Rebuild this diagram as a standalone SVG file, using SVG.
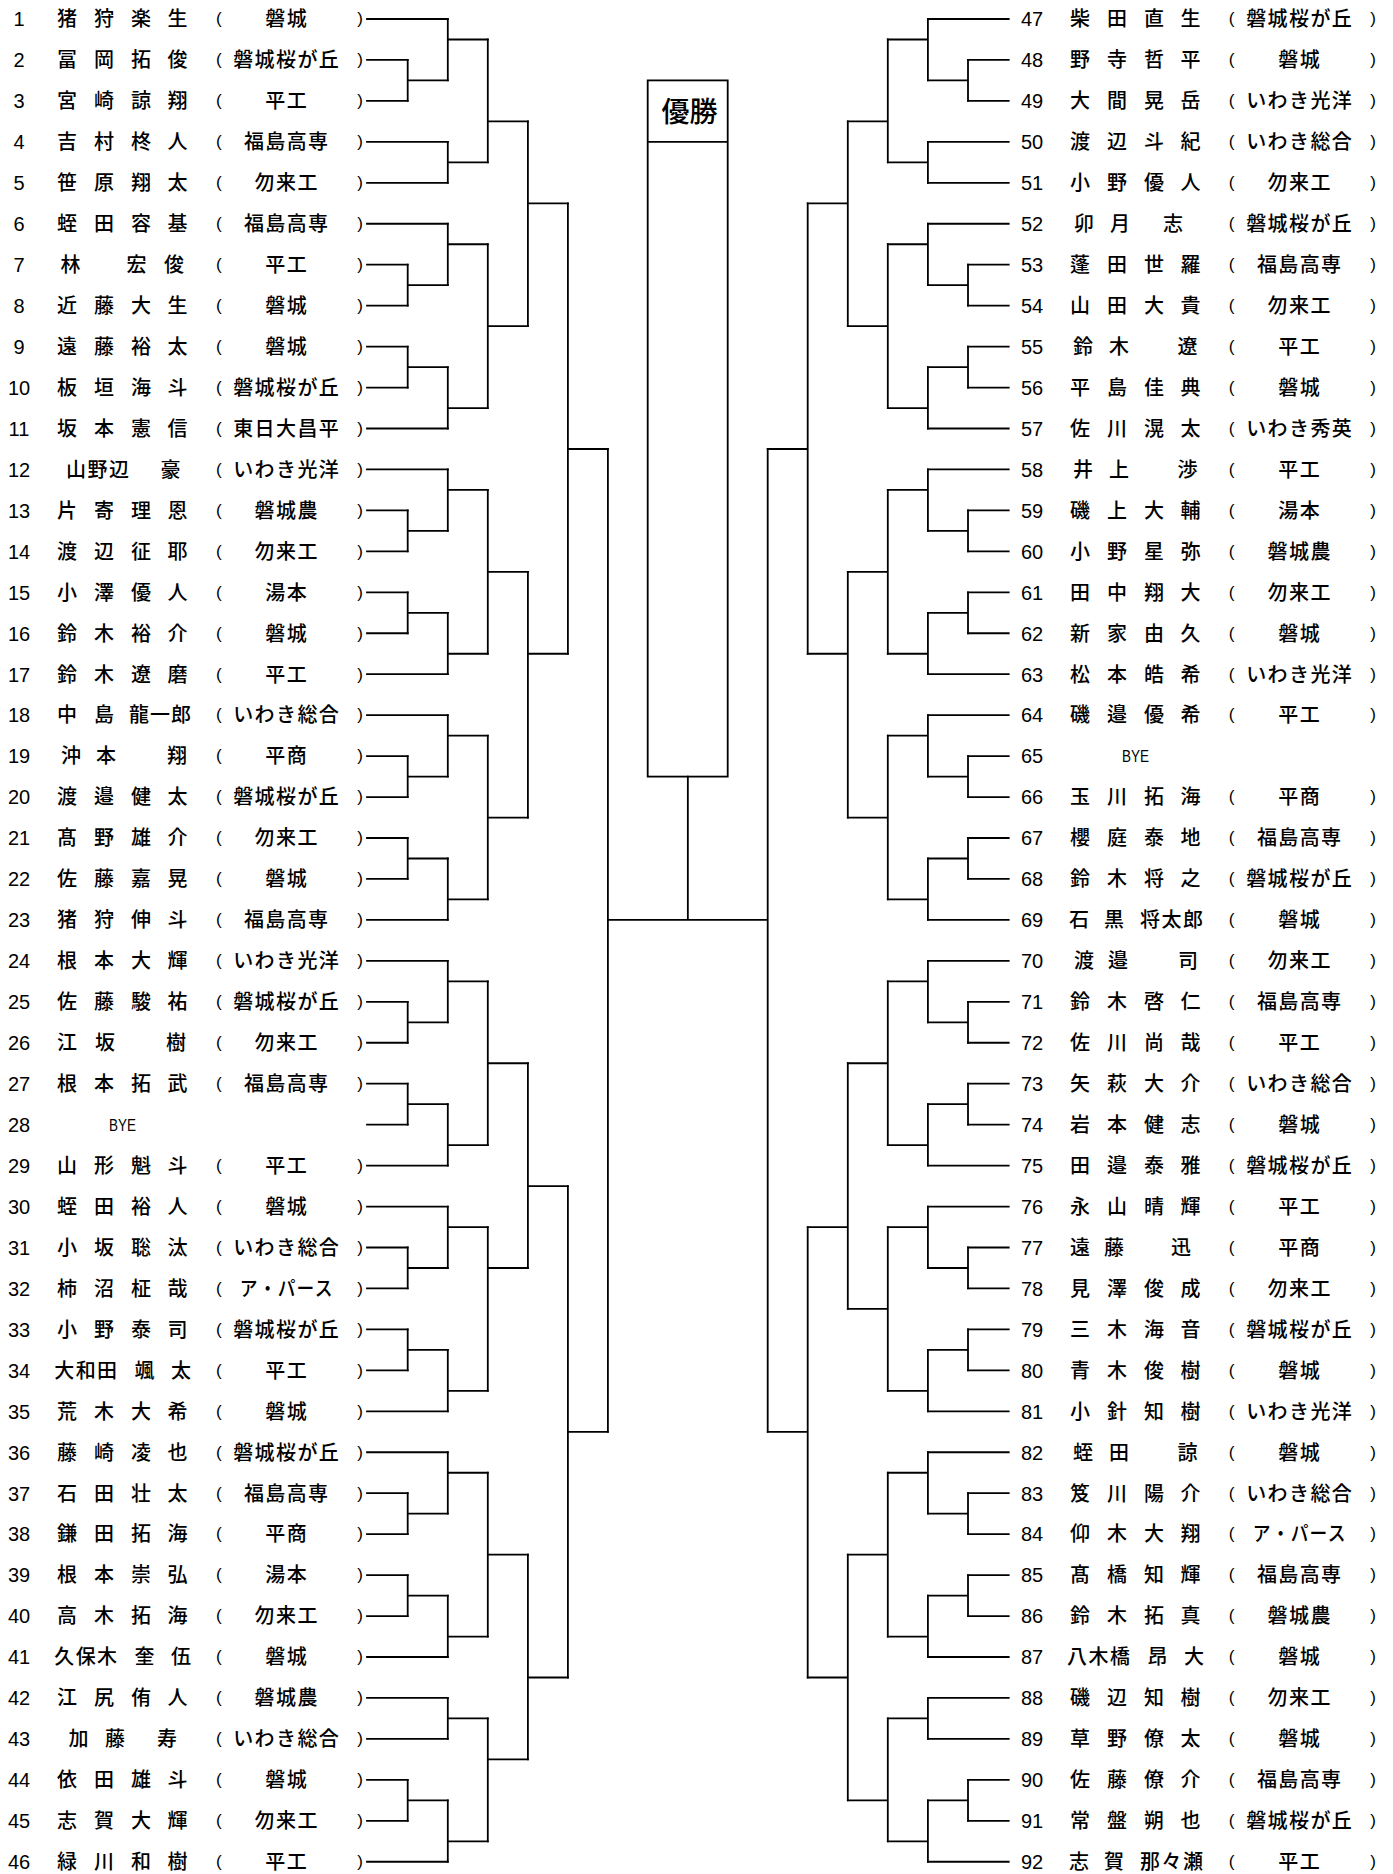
<svg xmlns="http://www.w3.org/2000/svg" width="1393" height="1874" viewBox="0 0 1393 1874">
<style>
.n{font-family:"Liberation Sans",Arial,sans-serif;font-size:20px;text-anchor:middle;fill:#000}
.j{font-family:"Noto Sans CJK JP","Noto Sans CJK SC",sans-serif;font-size:20px;font-weight:500;text-anchor:middle;fill:#000}
.s{font-family:"Noto Sans CJK JP","Noto Sans CJK SC",sans-serif;font-size:20px;font-weight:500;text-anchor:middle;letter-spacing:1.4px;fill:#000}
.p{font-family:"Liberation Sans",Arial,sans-serif;font-size:17px;text-anchor:middle;fill:#000}
.b{font-family:"Liberation Sans",Arial,sans-serif;font-size:17px;text-anchor:middle;fill:#000}
.t{font-family:"Noto Sans CJK JP","Noto Sans CJK SC",sans-serif;font-size:28px;font-weight:500;text-anchor:middle;fill:#000}
.c path{fill:none;stroke:#000;stroke-width:1.8;vector-effect:non-scaling-stroke;stroke-linecap:square}
.box{fill:none;stroke:#000;stroke-width:1.8}
</style>
<rect width="1393" height="1874" fill="#fff"/>
<g id="connectors" class="c" transform="translate(0 19) scale(1 20.475)">
<path d="M367 0H447.8M367 2H407.7M367 4H407.7M367 6H447.8M367 8H447.8M367 10H447.8M367 12H407.7M367 14H407.7M367 16H407.7M367 18H407.7M367 20H447.8M367 22H447.8M367 24H407.7M367 26H407.7M367 28H407.7M367 30H407.7M367 32H447.8M367 34H447.8M367 36H407.7M367 38H407.7M367 40H407.7M367 42H407.7M367 44H447.8M367 46H447.8M367 48H407.7M367 50H407.7M367 52H407.7M367 54H407.7M367 56H447.8M367 58H447.8M367 60H407.7M367 62H407.7M367 64H407.7M367 66H407.7M367 68H447.8M367 70H447.8M367 72H407.7M367 74H407.7M367 76H407.7M367 78H407.7M367 80H447.8M367 82H447.8M367 84H447.8M367 86H407.7M367 88H407.7M367 90H447.8"/>
<path d="M407.7 2V4M407.7 3H447.8M407.7 12V14M407.7 13H447.8M407.7 16V18M407.7 17H447.8M407.7 24V26M407.7 25H447.8M407.7 28V30M407.7 29H447.8M407.7 36V38M407.7 37H447.8M407.7 40V42M407.7 41H447.8M407.7 48V50M407.7 49H447.8M407.7 52V54M407.7 53H447.8M407.7 60V62M407.7 61H447.8M407.7 64V66M407.7 65H447.8M407.7 72V74M407.7 73H447.8M407.7 76V78M407.7 77H447.8M407.7 86V88M407.7 87H447.8"/>
<path d="M447.8 0V3M447.8 1H487.8M447.8 6V8M447.8 7H487.8M447.8 10V13M447.8 11H487.8M447.8 17V20M447.8 19H487.8M447.8 22V25M447.8 23H487.8M447.8 29V32M447.8 31H487.8M447.8 34V37M447.8 35H487.8M447.8 41V44M447.8 43H487.8M447.8 46V49M447.8 47H487.8M447.8 53V56M447.8 55H487.8M447.8 58V61M447.8 59H487.8M447.8 65V68M447.8 67H487.8M447.8 70V73M447.8 71H487.8M447.8 77V80M447.8 79H487.8M447.8 82V84M447.8 83H487.8M447.8 87V90M447.8 89H487.8"/>
<path d="M487.8 1V7M487.8 5H527.9M487.8 11V19M487.8 15H527.9M487.8 23V31M487.8 27H527.9M487.8 35V43M487.8 39H527.9M487.8 47V55M487.8 51H527.9M487.8 59V67M487.8 61H527.9M487.8 71V79M487.8 75H527.9M487.8 83V89M487.8 85H527.9"/>
<path d="M527.9 5V15M527.9 9H567.9M527.9 27V39M527.9 31H567.9M527.9 51V61M527.9 57H567.9M527.9 75V85M527.9 81H567.9"/>
<path d="M567.9 9V31M567.9 21H607.9M567.9 57V81M567.9 69H607.9"/>
<path d="M607.9 21V69M607.9 44H767.7M767.7 21V69M687.85 37V44"/>
<path d="M1008.7 0H927.9M1008.7 2H968M1008.7 4H968M1008.7 6H927.9M1008.7 8H927.9M1008.7 10H927.9M1008.7 12H968M1008.7 14H968M1008.7 16H968M1008.7 18H968M1008.7 20H927.9M1008.7 22H927.9M1008.7 24H968M1008.7 26H968M1008.7 28H968M1008.7 30H968M1008.7 32H927.9M1008.7 34H927.9M1008.7 36H968M1008.7 38H968M1008.7 40H968M1008.7 42H968M1008.7 44H927.9M1008.7 46H927.9M1008.7 48H968M1008.7 50H968M1008.7 52H968M1008.7 54H968M1008.7 56H927.9M1008.7 58H927.9M1008.7 60H968M1008.7 62H968M1008.7 64H968M1008.7 66H968M1008.7 68H927.9M1008.7 70H927.9M1008.7 72H968M1008.7 74H968M1008.7 76H968M1008.7 78H968M1008.7 80H927.9M1008.7 82H927.9M1008.7 84H927.9M1008.7 86H968M1008.7 88H968M1008.7 90H927.9"/>
<path d="M968 2V4M968 3H927.9M968 12V14M968 13H927.9M968 16V18M968 17H927.9M968 24V26M968 25H927.9M968 28V30M968 29H927.9M968 36V38M968 37H927.9M968 40V42M968 41H927.9M968 48V50M968 49H927.9M968 52V54M968 53H927.9M968 60V62M968 61H927.9M968 64V66M968 65H927.9M968 72V74M968 73H927.9M968 76V78M968 77H927.9M968 86V88M968 87H927.9"/>
<path d="M927.9 0V3M927.9 1H887.8M927.9 6V8M927.9 7H887.8M927.9 10V13M927.9 11H887.8M927.9 17V20M927.9 19H887.8M927.9 22V25M927.9 23H887.8M927.9 29V32M927.9 31H887.8M927.9 34V37M927.9 35H887.8M927.9 41V44M927.9 43H887.8M927.9 46V49M927.9 47H887.8M927.9 53V56M927.9 55H887.8M927.9 58V61M927.9 59H887.8M927.9 65V68M927.9 67H887.8M927.9 70V73M927.9 71H887.8M927.9 77V80M927.9 79H887.8M927.9 82V84M927.9 83H887.8M927.9 87V90M927.9 89H887.8"/>
<path d="M887.8 1V7M887.8 5H847.8M887.8 11V19M887.8 15H847.8M887.8 23V31M887.8 27H847.8M887.8 35V43M887.8 39H847.8M887.8 47V55M887.8 51H847.8M887.8 59V67M887.8 63H847.8M887.8 71V79M887.8 75H847.8M887.8 83V89M887.8 87H847.8"/>
<path d="M847.8 5V15M847.8 9H807.7M847.8 27V39M847.8 31H807.7M847.8 51V63M847.8 59H807.7M847.8 75V87M847.8 81H807.7"/>
<path d="M807.7 9V31M807.7 21H767.7M807.7 59V81M807.7 69H767.7"/>
</g>
<g id="champion">
<rect class="box" x="647.7" y="80.4" width="80" height="696.2"/>
<line class="box" x1="647.7" y1="141.85" x2="727.7" y2="141.85"/>
<text class="t" x="689.5" y="121.5">優勝</text>
</g>
<g id="p1" transform="translate(0 26.3)"><text class="n" x="19">1</text><text class="j" x="67 104 141 177.5">猪狩楽生</text><text class="p" x="218.8" y="-2">(</text><text class="s" x="286.7">磐城</text><text class="p" x="360" y="-2">)</text></g>
<g id="p2" transform="translate(0 67.25)"><text class="n" x="19">2</text><text class="j" x="67 104 141 177.5">冨岡拓俊</text><text class="p" x="218.8" y="-2">(</text><text class="s" x="286.7">磐城桜が丘</text><text class="p" x="360" y="-2">)</text></g>
<g id="p3" transform="translate(0 108.2)"><text class="n" x="19">3</text><text class="j" x="67 104 141 177.5">宮崎諒翔</text><text class="p" x="218.8" y="-2">(</text><text class="s" x="286.7">平工</text><text class="p" x="360" y="-2">)</text></g>
<g id="p4" transform="translate(0 149.15)"><text class="n" x="19">4</text><text class="j" x="67 104 141 177.5">吉村柊人</text><text class="p" x="218.8" y="-2">(</text><text class="s" x="286.7">福島高専</text><text class="p" x="360" y="-2">)</text></g>
<g id="p5" transform="translate(0 190.1)"><text class="n" x="19">5</text><text class="j" x="67 104 141 177.5">笹原翔太</text><text class="p" x="218.8" y="-2">(</text><text class="s" x="286.7">勿来工</text><text class="p" x="360" y="-2">)</text></g>
<g id="p6" transform="translate(0 231.05)"><text class="n" x="19">6</text><text class="j" x="67 104 141 177.5">蛭田容基</text><text class="p" x="218.8" y="-2">(</text><text class="s" x="286.7">福島高専</text><text class="p" x="360" y="-2">)</text></g>
<g id="p7" transform="translate(0 272)"><text class="n" x="19">7</text><text class="j" x="70.5 136.5 174">林宏俊</text><text class="p" x="218.8" y="-2">(</text><text class="s" x="286.7">平工</text><text class="p" x="360" y="-2">)</text></g>
<g id="p8" transform="translate(0 312.95)"><text class="n" x="19">8</text><text class="j" x="67 104 141 177.5">近藤大生</text><text class="p" x="218.8" y="-2">(</text><text class="s" x="286.7">磐城</text><text class="p" x="360" y="-2">)</text></g>
<g id="p9" transform="translate(0 353.9)"><text class="n" x="19">9</text><text class="j" x="67 104 141 177.5">遠藤裕太</text><text class="p" x="218.8" y="-2">(</text><text class="s" x="286.7">磐城</text><text class="p" x="360" y="-2">)</text></g>
<g id="p10" transform="translate(0 394.85)"><text class="n" x="19">10</text><text class="j" x="67 104 141 177.5">板垣海斗</text><text class="p" x="218.8" y="-2">(</text><text class="s" x="286.7">磐城桜が丘</text><text class="p" x="360" y="-2">)</text></g>
<g id="p11" transform="translate(0 435.8)"><text class="n" x="19">11</text><text class="j" x="67 104 141 177.5">坂本憲信</text><text class="p" x="218.8" y="-2">(</text><text class="s" x="286.7">東日大昌平</text><text class="p" x="360" y="-2">)</text></g>
<g id="p12" transform="translate(0 476.75)"><text class="n" x="19">12</text><text class="j" x="76 97.5 119 170.5">山野辺豪</text><text class="p" x="218.8" y="-2">(</text><text class="s" x="286.7">いわき光洋</text><text class="p" x="360" y="-2">)</text></g>
<g id="p13" transform="translate(0 517.7)"><text class="n" x="19">13</text><text class="j" x="67 104 141 177.5">片寄理恩</text><text class="p" x="218.8" y="-2">(</text><text class="s" x="286.7">磐城農</text><text class="p" x="360" y="-2">)</text></g>
<g id="p14" transform="translate(0 558.65)"><text class="n" x="19">14</text><text class="j" x="67 104 141 177.5">渡辺征耶</text><text class="p" x="218.8" y="-2">(</text><text class="s" x="286.7">勿来工</text><text class="p" x="360" y="-2">)</text></g>
<g id="p15" transform="translate(0 599.6)"><text class="n" x="19">15</text><text class="j" x="67 104 141 177.5">小澤優人</text><text class="p" x="218.8" y="-2">(</text><text class="s" x="286.7">湯本</text><text class="p" x="360" y="-2">)</text></g>
<g id="p16" transform="translate(0 640.55)"><text class="n" x="19">16</text><text class="j" x="67 104 141 177.5">鈴木裕介</text><text class="p" x="218.8" y="-2">(</text><text class="s" x="286.7">磐城</text><text class="p" x="360" y="-2">)</text></g>
<g id="p17" transform="translate(0 681.5)"><text class="n" x="19">17</text><text class="j" x="67 104 141 177.5">鈴木遼磨</text><text class="p" x="218.8" y="-2">(</text><text class="s" x="286.7">平工</text><text class="p" x="360" y="-2">)</text></g>
<g id="p18" transform="translate(0 722.45)"><text class="n" x="19">18</text><text class="j" x="67 104 139 160 181">中島龍一郎</text><text class="p" x="218.8" y="-2">(</text><text class="s" x="286.7">いわき総合</text><text class="p" x="360" y="-2">)</text></g>
<g id="p19" transform="translate(0 763.4)"><text class="n" x="19">19</text><text class="j" x="71 106 177">沖本翔</text><text class="p" x="218.8" y="-2">(</text><text class="s" x="286.7">平商</text><text class="p" x="360" y="-2">)</text></g>
<g id="p20" transform="translate(0 804.35)"><text class="n" x="19">20</text><text class="j" x="67 104 141 177.5">渡邉健太</text><text class="p" x="218.8" y="-2">(</text><text class="s" x="286.7">磐城桜が丘</text><text class="p" x="360" y="-2">)</text></g>
<g id="p21" transform="translate(0 845.3)"><text class="n" x="19">21</text><text class="j" x="67 104 141 177.5">髙野雄介</text><text class="p" x="218.8" y="-2">(</text><text class="s" x="286.7">勿来工</text><text class="p" x="360" y="-2">)</text></g>
<g id="p22" transform="translate(0 886.25)"><text class="n" x="19">22</text><text class="j" x="67 104 141 177.5">佐藤嘉晃</text><text class="p" x="218.8" y="-2">(</text><text class="s" x="286.7">磐城</text><text class="p" x="360" y="-2">)</text></g>
<g id="p23" transform="translate(0 927.2)"><text class="n" x="19">23</text><text class="j" x="67 104 141 177.5">猪狩伸斗</text><text class="p" x="218.8" y="-2">(</text><text class="s" x="286.7">福島高専</text><text class="p" x="360" y="-2">)</text></g>
<g id="p24" transform="translate(0 968.15)"><text class="n" x="19">24</text><text class="j" x="67 104 141 177.5">根本大輝</text><text class="p" x="218.8" y="-2">(</text><text class="s" x="286.7">いわき光洋</text><text class="p" x="360" y="-2">)</text></g>
<g id="p25" transform="translate(0 1009.1)"><text class="n" x="19">25</text><text class="j" x="67 104 141 177.5">佐藤駿祐</text><text class="p" x="218.8" y="-2">(</text><text class="s" x="286.7">磐城桜が丘</text><text class="p" x="360" y="-2">)</text></g>
<g id="p26" transform="translate(0 1050.05)"><text class="n" x="19">26</text><text class="j" x="67 105 176">江坂樹</text><text class="p" x="218.8" y="-2">(</text><text class="s" x="286.7">勿来工</text><text class="p" x="360" y="-2">)</text></g>
<g id="p27" transform="translate(0 1091)"><text class="n" x="19">27</text><text class="j" x="67 104 141 177.5">根本拓武</text><text class="p" x="218.8" y="-2">(</text><text class="s" x="286.7">福島高専</text><text class="p" x="360" y="-2">)</text></g>
<g id="p28" transform="translate(0 1131.95)"><text class="n" x="19">28</text><text class="b" x="122.5" y="-1" textLength="27" lengthAdjust="spacingAndGlyphs">BYE</text></g>
<g id="p29" transform="translate(0 1172.9)"><text class="n" x="19">29</text><text class="j" x="67 104 141 177.5">山形魁斗</text><text class="p" x="218.8" y="-2">(</text><text class="s" x="286.7">平工</text><text class="p" x="360" y="-2">)</text></g>
<g id="p30" transform="translate(0 1213.85)"><text class="n" x="19">30</text><text class="j" x="67 104 141 177.5">蛭田裕人</text><text class="p" x="218.8" y="-2">(</text><text class="s" x="286.7">磐城</text><text class="p" x="360" y="-2">)</text></g>
<g id="p31" transform="translate(0 1254.8)"><text class="n" x="19">31</text><text class="j" x="67 104 141 177.5">小坂聡汰</text><text class="p" x="218.8" y="-2">(</text><text class="s" x="286.7">いわき総合</text><text class="p" x="360" y="-2">)</text></g>
<g id="p32" transform="translate(0 1295.75)"><text class="n" x="19">32</text><text class="j" x="67 104 141 177.5">柿沼柾哉</text><text class="p" x="218.8" y="-2">(</text><text class="s" x="286.7" textLength="94" lengthAdjust="spacingAndGlyphs">ア・パース</text><text class="p" x="360" y="-2">)</text></g>
<g id="p33" transform="translate(0 1336.7)"><text class="n" x="19">33</text><text class="j" x="67 104 141 177.5">小野泰司</text><text class="p" x="218.8" y="-2">(</text><text class="s" x="286.7">磐城桜が丘</text><text class="p" x="360" y="-2">)</text></g>
<g id="p34" transform="translate(0 1377.65)"><text class="n" x="19">34</text><text class="j" x="64.3 85.7 107.1 144.5 181">大和田颯太</text><text class="p" x="218.8" y="-2">(</text><text class="s" x="286.7">平工</text><text class="p" x="360" y="-2">)</text></g>
<g id="p35" transform="translate(0 1418.6)"><text class="n" x="19">35</text><text class="j" x="67 104 141 177.5">荒木大希</text><text class="p" x="218.8" y="-2">(</text><text class="s" x="286.7">磐城</text><text class="p" x="360" y="-2">)</text></g>
<g id="p36" transform="translate(0 1459.55)"><text class="n" x="19">36</text><text class="j" x="67 104 141 177.5">藤崎凌也</text><text class="p" x="218.8" y="-2">(</text><text class="s" x="286.7">磐城桜が丘</text><text class="p" x="360" y="-2">)</text></g>
<g id="p37" transform="translate(0 1500.5)"><text class="n" x="19">37</text><text class="j" x="67 104 141 177.5">石田壮太</text><text class="p" x="218.8" y="-2">(</text><text class="s" x="286.7">福島高専</text><text class="p" x="360" y="-2">)</text></g>
<g id="p38" transform="translate(0 1541.45)"><text class="n" x="19">38</text><text class="j" x="67 104 141 177.5">鎌田拓海</text><text class="p" x="218.8" y="-2">(</text><text class="s" x="286.7">平商</text><text class="p" x="360" y="-2">)</text></g>
<g id="p39" transform="translate(0 1582.4)"><text class="n" x="19">39</text><text class="j" x="67 104 141 177.5">根本崇弘</text><text class="p" x="218.8" y="-2">(</text><text class="s" x="286.7">湯本</text><text class="p" x="360" y="-2">)</text></g>
<g id="p40" transform="translate(0 1623.35)"><text class="n" x="19">40</text><text class="j" x="67 104 141 177.5">高木拓海</text><text class="p" x="218.8" y="-2">(</text><text class="s" x="286.7">勿来工</text><text class="p" x="360" y="-2">)</text></g>
<g id="p41" transform="translate(0 1664.3)"><text class="n" x="19">41</text><text class="j" x="64.3 85.7 107.1 144.5 181">久保木奎伍</text><text class="p" x="218.8" y="-2">(</text><text class="s" x="286.7">磐城</text><text class="p" x="360" y="-2">)</text></g>
<g id="p42" transform="translate(0 1705.25)"><text class="n" x="19">42</text><text class="j" x="67 104 141 177.5">江尻侑人</text><text class="p" x="218.8" y="-2">(</text><text class="s" x="286.7">磐城農</text><text class="p" x="360" y="-2">)</text></g>
<g id="p43" transform="translate(0 1746.2)"><text class="n" x="19">43</text><text class="j" x="78.5 115 167">加藤寿</text><text class="p" x="218.8" y="-2">(</text><text class="s" x="286.7">いわき総合</text><text class="p" x="360" y="-2">)</text></g>
<g id="p44" transform="translate(0 1787.15)"><text class="n" x="19">44</text><text class="j" x="67 104 141 177.5">依田雄斗</text><text class="p" x="218.8" y="-2">(</text><text class="s" x="286.7">磐城</text><text class="p" x="360" y="-2">)</text></g>
<g id="p45" transform="translate(0 1828.1)"><text class="n" x="19">45</text><text class="j" x="67 104 141 177.5">志賀大輝</text><text class="p" x="218.8" y="-2">(</text><text class="s" x="286.7">勿来工</text><text class="p" x="360" y="-2">)</text></g>
<g id="p46" transform="translate(0 1869.05)"><text class="n" x="19">46</text><text class="j" x="67 104 141 177.5">緑川和樹</text><text class="p" x="218.8" y="-2">(</text><text class="s" x="286.7">平工</text><text class="p" x="360" y="-2">)</text></g>
<g id="p47" transform="translate(0 26.3)"><text class="n" x="1032">47</text><text class="j" x="1080 1117 1154 1190.5">柴田直生</text><text class="p" x="1231.5" y="-2">(</text><text class="s" x="1299.7">磐城桜が丘</text><text class="p" x="1373" y="-2">)</text></g>
<g id="p48" transform="translate(0 67.25)"><text class="n" x="1032">48</text><text class="j" x="1080 1117 1154 1190.5">野寺哲平</text><text class="p" x="1231.5" y="-2">(</text><text class="s" x="1299.7">磐城</text><text class="p" x="1373" y="-2">)</text></g>
<g id="p49" transform="translate(0 108.2)"><text class="n" x="1032">49</text><text class="j" x="1080 1117 1154 1190.5">大間晃岳</text><text class="p" x="1231.5" y="-2">(</text><text class="s" x="1299.7">いわき光洋</text><text class="p" x="1373" y="-2">)</text></g>
<g id="p50" transform="translate(0 149.15)"><text class="n" x="1032">50</text><text class="j" x="1080 1117 1154 1190.5">渡辺斗紀</text><text class="p" x="1231.5" y="-2">(</text><text class="s" x="1299.7">いわき総合</text><text class="p" x="1373" y="-2">)</text></g>
<g id="p51" transform="translate(0 190.1)"><text class="n" x="1032">51</text><text class="j" x="1080 1117 1154 1190.5">小野優人</text><text class="p" x="1231.5" y="-2">(</text><text class="s" x="1299.7">勿来工</text><text class="p" x="1373" y="-2">)</text></g>
<g id="p52" transform="translate(0 231.05)"><text class="n" x="1032">52</text><text class="j" x="1084 1120 1173">卯月志</text><text class="p" x="1231.5" y="-2">(</text><text class="s" x="1299.7">磐城桜が丘</text><text class="p" x="1373" y="-2">)</text></g>
<g id="p53" transform="translate(0 272)"><text class="n" x="1032">53</text><text class="j" x="1080 1117 1154 1190.5">蓬田世羅</text><text class="p" x="1231.5" y="-2">(</text><text class="s" x="1299.7">福島高専</text><text class="p" x="1373" y="-2">)</text></g>
<g id="p54" transform="translate(0 312.95)"><text class="n" x="1032">54</text><text class="j" x="1080 1117 1154 1190.5">山田大貴</text><text class="p" x="1231.5" y="-2">(</text><text class="s" x="1299.7">勿来工</text><text class="p" x="1373" y="-2">)</text></g>
<g id="p55" transform="translate(0 353.9)"><text class="n" x="1032">55</text><text class="j" x="1083 1119 1187.5">鈴木遼</text><text class="p" x="1231.5" y="-2">(</text><text class="s" x="1299.7">平工</text><text class="p" x="1373" y="-2">)</text></g>
<g id="p56" transform="translate(0 394.85)"><text class="n" x="1032">56</text><text class="j" x="1080 1117 1154 1190.5">平島佳典</text><text class="p" x="1231.5" y="-2">(</text><text class="s" x="1299.7">磐城</text><text class="p" x="1373" y="-2">)</text></g>
<g id="p57" transform="translate(0 435.8)"><text class="n" x="1032">57</text><text class="j" x="1080 1117 1154 1190.5">佐川滉太</text><text class="p" x="1231.5" y="-2">(</text><text class="s" x="1299.7">いわき秀英</text><text class="p" x="1373" y="-2">)</text></g>
<g id="p58" transform="translate(0 476.75)"><text class="n" x="1032">58</text><text class="j" x="1083 1119 1187.5">井上渉</text><text class="p" x="1231.5" y="-2">(</text><text class="s" x="1299.7">平工</text><text class="p" x="1373" y="-2">)</text></g>
<g id="p59" transform="translate(0 517.7)"><text class="n" x="1032">59</text><text class="j" x="1080 1117 1154 1190.5">磯上大輔</text><text class="p" x="1231.5" y="-2">(</text><text class="s" x="1299.7">湯本</text><text class="p" x="1373" y="-2">)</text></g>
<g id="p60" transform="translate(0 558.65)"><text class="n" x="1032">60</text><text class="j" x="1080 1117 1154 1190.5">小野星弥</text><text class="p" x="1231.5" y="-2">(</text><text class="s" x="1299.7">磐城農</text><text class="p" x="1373" y="-2">)</text></g>
<g id="p61" transform="translate(0 599.6)"><text class="n" x="1032">61</text><text class="j" x="1080 1117 1154 1190.5">田中翔大</text><text class="p" x="1231.5" y="-2">(</text><text class="s" x="1299.7">勿来工</text><text class="p" x="1373" y="-2">)</text></g>
<g id="p62" transform="translate(0 640.55)"><text class="n" x="1032">62</text><text class="j" x="1080 1117 1154 1190.5">新家由久</text><text class="p" x="1231.5" y="-2">(</text><text class="s" x="1299.7">磐城</text><text class="p" x="1373" y="-2">)</text></g>
<g id="p63" transform="translate(0 681.5)"><text class="n" x="1032">63</text><text class="j" x="1080 1117 1154 1190.5">松本皓希</text><text class="p" x="1231.5" y="-2">(</text><text class="s" x="1299.7">いわき光洋</text><text class="p" x="1373" y="-2">)</text></g>
<g id="p64" transform="translate(0 722.45)"><text class="n" x="1032">64</text><text class="j" x="1080 1117 1154 1190.5">磯邉優希</text><text class="p" x="1231.5" y="-2">(</text><text class="s" x="1299.7">平工</text><text class="p" x="1373" y="-2">)</text></g>
<g id="p65" transform="translate(0 763.4)"><text class="n" x="1032">65</text><text class="b" x="1135.5" y="-1" textLength="27" lengthAdjust="spacingAndGlyphs">BYE</text></g>
<g id="p66" transform="translate(0 804.35)"><text class="n" x="1032">66</text><text class="j" x="1080 1117 1154 1190.5">玉川拓海</text><text class="p" x="1231.5" y="-2">(</text><text class="s" x="1299.7">平商</text><text class="p" x="1373" y="-2">)</text></g>
<g id="p67" transform="translate(0 845.3)"><text class="n" x="1032">67</text><text class="j" x="1080 1117 1154 1190.5">櫻庭泰地</text><text class="p" x="1231.5" y="-2">(</text><text class="s" x="1299.7">福島高専</text><text class="p" x="1373" y="-2">)</text></g>
<g id="p68" transform="translate(0 886.25)"><text class="n" x="1032">68</text><text class="j" x="1080 1117 1154 1190.5">鈴木将之</text><text class="p" x="1231.5" y="-2">(</text><text class="s" x="1299.7">磐城桜が丘</text><text class="p" x="1373" y="-2">)</text></g>
<g id="p69" transform="translate(0 927.2)"><text class="n" x="1032">69</text><text class="j" x="1079 1114 1150 1171.5 1193">石黒将太郎</text><text class="p" x="1231.5" y="-2">(</text><text class="s" x="1299.7">磐城</text><text class="p" x="1373" y="-2">)</text></g>
<g id="p70" transform="translate(0 968.15)"><text class="n" x="1032">70</text><text class="j" x="1084 1118 1188">渡邉司</text><text class="p" x="1231.5" y="-2">(</text><text class="s" x="1299.7">勿来工</text><text class="p" x="1373" y="-2">)</text></g>
<g id="p71" transform="translate(0 1009.1)"><text class="n" x="1032">71</text><text class="j" x="1080 1117 1154 1190.5">鈴木啓仁</text><text class="p" x="1231.5" y="-2">(</text><text class="s" x="1299.7">福島高専</text><text class="p" x="1373" y="-2">)</text></g>
<g id="p72" transform="translate(0 1050.05)"><text class="n" x="1032">72</text><text class="j" x="1080 1117 1154 1190.5">佐川尚哉</text><text class="p" x="1231.5" y="-2">(</text><text class="s" x="1299.7">平工</text><text class="p" x="1373" y="-2">)</text></g>
<g id="p73" transform="translate(0 1091)"><text class="n" x="1032">73</text><text class="j" x="1080 1117 1154 1190.5">矢萩大介</text><text class="p" x="1231.5" y="-2">(</text><text class="s" x="1299.7">いわき総合</text><text class="p" x="1373" y="-2">)</text></g>
<g id="p74" transform="translate(0 1131.95)"><text class="n" x="1032">74</text><text class="j" x="1080 1117 1154 1190.5">岩本健志</text><text class="p" x="1231.5" y="-2">(</text><text class="s" x="1299.7">磐城</text><text class="p" x="1373" y="-2">)</text></g>
<g id="p75" transform="translate(0 1172.9)"><text class="n" x="1032">75</text><text class="j" x="1080 1117 1154 1190.5">田邉泰雅</text><text class="p" x="1231.5" y="-2">(</text><text class="s" x="1299.7">磐城桜が丘</text><text class="p" x="1373" y="-2">)</text></g>
<g id="p76" transform="translate(0 1213.85)"><text class="n" x="1032">76</text><text class="j" x="1080 1117 1154 1190.5">永山晴輝</text><text class="p" x="1231.5" y="-2">(</text><text class="s" x="1299.7">平工</text><text class="p" x="1373" y="-2">)</text></g>
<g id="p77" transform="translate(0 1254.8)"><text class="n" x="1032">77</text><text class="j" x="1080 1114 1181">遠藤迅</text><text class="p" x="1231.5" y="-2">(</text><text class="s" x="1299.7">平商</text><text class="p" x="1373" y="-2">)</text></g>
<g id="p78" transform="translate(0 1295.75)"><text class="n" x="1032">78</text><text class="j" x="1080 1117 1154 1190.5">見澤俊成</text><text class="p" x="1231.5" y="-2">(</text><text class="s" x="1299.7">勿来工</text><text class="p" x="1373" y="-2">)</text></g>
<g id="p79" transform="translate(0 1336.7)"><text class="n" x="1032">79</text><text class="j" x="1080 1117 1154 1190.5">三木海音</text><text class="p" x="1231.5" y="-2">(</text><text class="s" x="1299.7">磐城桜が丘</text><text class="p" x="1373" y="-2">)</text></g>
<g id="p80" transform="translate(0 1377.65)"><text class="n" x="1032">80</text><text class="j" x="1080 1117 1154 1190.5">青木俊樹</text><text class="p" x="1231.5" y="-2">(</text><text class="s" x="1299.7">磐城</text><text class="p" x="1373" y="-2">)</text></g>
<g id="p81" transform="translate(0 1418.6)"><text class="n" x="1032">81</text><text class="j" x="1080 1117 1154 1190.5">小針知樹</text><text class="p" x="1231.5" y="-2">(</text><text class="s" x="1299.7">いわき光洋</text><text class="p" x="1373" y="-2">)</text></g>
<g id="p82" transform="translate(0 1459.55)"><text class="n" x="1032">82</text><text class="j" x="1083 1119 1187.5">蛭田諒</text><text class="p" x="1231.5" y="-2">(</text><text class="s" x="1299.7">磐城</text><text class="p" x="1373" y="-2">)</text></g>
<g id="p83" transform="translate(0 1500.5)"><text class="n" x="1032">83</text><text class="j" x="1080 1117 1154 1190.5">笈川陽介</text><text class="p" x="1231.5" y="-2">(</text><text class="s" x="1299.7">いわき総合</text><text class="p" x="1373" y="-2">)</text></g>
<g id="p84" transform="translate(0 1541.45)"><text class="n" x="1032">84</text><text class="j" x="1080 1117 1154 1190.5">仰木大翔</text><text class="p" x="1231.5" y="-2">(</text><text class="s" x="1299.7" textLength="94" lengthAdjust="spacingAndGlyphs">ア・パース</text><text class="p" x="1373" y="-2">)</text></g>
<g id="p85" transform="translate(0 1582.4)"><text class="n" x="1032">85</text><text class="j" x="1080 1117 1154 1190.5">髙橋知輝</text><text class="p" x="1231.5" y="-2">(</text><text class="s" x="1299.7">福島高専</text><text class="p" x="1373" y="-2">)</text></g>
<g id="p86" transform="translate(0 1623.35)"><text class="n" x="1032">86</text><text class="j" x="1080 1117 1154 1190.5">鈴木拓真</text><text class="p" x="1231.5" y="-2">(</text><text class="s" x="1299.7">磐城農</text><text class="p" x="1373" y="-2">)</text></g>
<g id="p87" transform="translate(0 1664.3)"><text class="n" x="1032">87</text><text class="j" x="1077 1098.5 1120 1157.5 1194">八木橋昂大</text><text class="p" x="1231.5" y="-2">(</text><text class="s" x="1299.7">磐城</text><text class="p" x="1373" y="-2">)</text></g>
<g id="p88" transform="translate(0 1705.25)"><text class="n" x="1032">88</text><text class="j" x="1080 1117 1154 1190.5">磯辺知樹</text><text class="p" x="1231.5" y="-2">(</text><text class="s" x="1299.7">勿来工</text><text class="p" x="1373" y="-2">)</text></g>
<g id="p89" transform="translate(0 1746.2)"><text class="n" x="1032">89</text><text class="j" x="1080 1117 1154 1190.5">草野僚太</text><text class="p" x="1231.5" y="-2">(</text><text class="s" x="1299.7">磐城</text><text class="p" x="1373" y="-2">)</text></g>
<g id="p90" transform="translate(0 1787.15)"><text class="n" x="1032">90</text><text class="j" x="1080 1117 1154 1190.5">佐藤僚介</text><text class="p" x="1231.5" y="-2">(</text><text class="s" x="1299.7">福島高専</text><text class="p" x="1373" y="-2">)</text></g>
<g id="p91" transform="translate(0 1828.1)"><text class="n" x="1032">91</text><text class="j" x="1080 1117 1154 1190.5">常盤朔也</text><text class="p" x="1231.5" y="-2">(</text><text class="s" x="1299.7">磐城桜が丘</text><text class="p" x="1373" y="-2">)</text></g>
<g id="p92" transform="translate(0 1869.05)"><text class="n" x="1032">92</text><text class="j" x="1079 1114 1150 1171.5 1193">志賀那々瀬</text><text class="p" x="1231.5" y="-2">(</text><text class="s" x="1299.7">平工</text><text class="p" x="1373" y="-2">)</text></g>
</svg>
